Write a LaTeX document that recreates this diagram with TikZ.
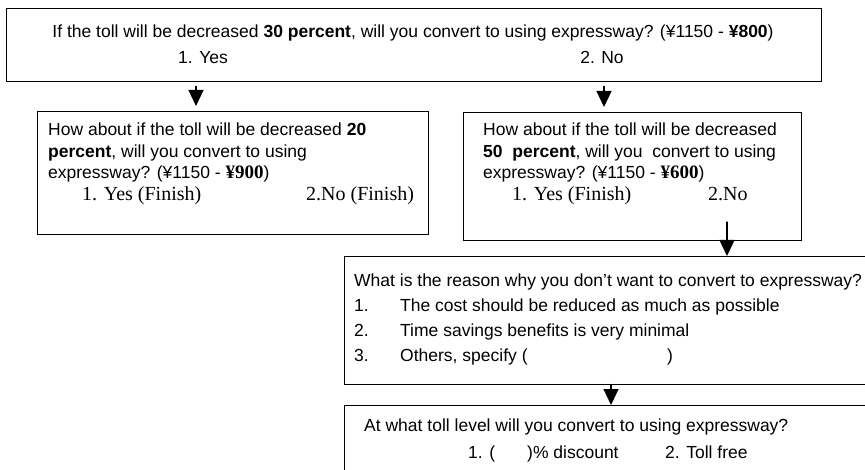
\documentclass[tikz,border=0pt]{standalone}
\usepackage{fontspec}
\setmainfont{Liberation Sans}
\newfontfamily\timesfont{Liberation Serif}
\usetikzlibrary{arrows.meta}

\def\qsize{\fontsize{17.5}{21}\selectfont}
\def\asize{\fontsize{20}{24}\timesfont}
\def\yen#1{{\fontsize{19}{21}\timesfont\bfseries ¥#1}}

\begin{document}
\begin{tikzpicture}[x=1pt, y=-1pt, line cap=round,
    qbox/.style={draw, line width=1.4pt, inner sep=0pt, anchor=north west},
    qtext/.style={anchor=base west, inner sep=0pt, font=\qsize},
    atext/.style={anchor=base west, inner sep=0pt, font=\asize},
    flow/.style={line width=1.2pt, -{Triangle[length=16pt, width=15pt]}}
  ]
  \useasboundingbox (0,0) rectangle (865,470);
  \clip (0,0) rectangle (865,470);

  % question boxes
  \node [qbox, minimum width=815, minimum height=73] (q30) at (6,8) {};
  \node [qbox, minimum width=391, minimum height=123] (q20) at (37,111) {};
  \node [qbox, minimum width=338, minimum height=128] (q50) at (463,112) {};
  \node [qbox, minimum width=540, minimum height=128] (why) at (344,256) {};
  \node [qbox, minimum width=540, minimum height=100] (lvl) at (344,405) {};

  % first question
  \node [qtext, anchor=base] (q30a) at (413,38) {If the toll will be decreased \textbf{30 percent}, will you convert to using expressway? (¥1150 - \textbf{¥800})};
  \node [qtext] (q30y) at (178,64) {1. Yes};
  \node [qtext, anchor=base] (q30n) at (602,64) {2. No};

  % 20 percent
  \node [qtext] (q20a) at (48,136) {How about if the toll will be decreased \textbf{20}};
  \node [qtext] (q20b) at (48,158) {\textbf{percent}, will you convert to using};
  \node [qtext] (q20c) at (48,179) {expressway? (¥1150 - \yen{900})};
  \node [atext] (q20d) at (82,201) {1. Yes (Finish)};
  \node [atext] (q20n) at (306,201) {2.No (Finish)};

  % 50 percent
  \node [qtext] (q50a) at (483,136) {How about if the toll will be decreased};
  \node [qtext] (q50b) at (483,158) {\textbf{50\ \ percent}, will you\ \ convert to using};
  \node [qtext] (q50c) at (483,179) {expressway? (¥1150 - \yen{600})};
  \node [atext] (q50d) at (512,201) {1. Yes (Finish)};
  \node [atext] (q50n) at (708,201) {2.No};

  % reason
  \node [qtext] (whya) at (354,287) {What is the reason why you don’t want to convert to expressway?};
  \foreach \n/\t [evaluate={\yb=287+\n*24.7;}] in {1/The cost should be reduced as much as possible,
      2/Time savings benefits is very minimal,
      3/{Others, specify (}}{
    \node [qtext] (why\n) at (354,\yb) {\n.};
    \node [qtext] (whyt\n) at (400,\yb) {\t};
  }
  \node [qtext] (whyc) at (667,361) {)};

  % toll level
  \node [qtext] (lvla) at (364,431) {At what toll level will you convert to using expressway?};
  \node [qtext] (lvlb) at (468,458) {1. (};
  \node [qtext] (lvlc) at (527,458) {)\% discount};
  \node [qtext] (lvld) at (665,458) {2. Toll free};

  % arrows
  \coordinate (a1) at (196,0);
  \coordinate (a2) at (604,0);
  \coordinate (a3) at (727,222);
  \coordinate (a4) at (611,0);
  \draw [flow, shorten <=4pt, shorten >=5pt] (a1 |- q30.south) -- (a1 |- q20.north);
  \draw [flow, shorten <=4pt, shorten >=5pt] (a2 |- q30.south) -- (a2 |- q50.north);
  \draw [flow] (a3) -- (a3 |- why.north);
  \draw [flow, shorten <=-1pt] (a4 |- why.south) -- (a4 |- lvl.north);
\end{tikzpicture}
\end{document}
